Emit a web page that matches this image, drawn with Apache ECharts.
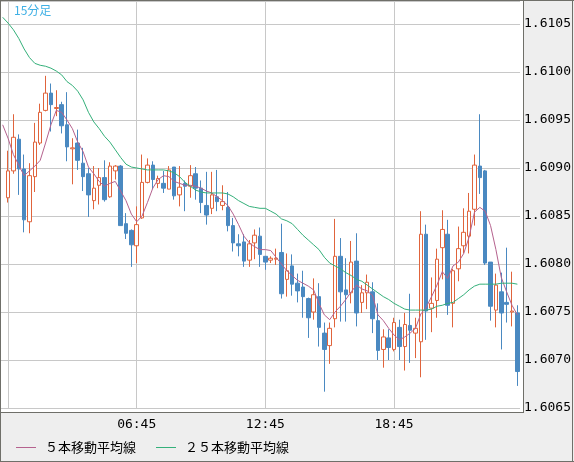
<!DOCTYPE html>
<html><head><meta charset="utf-8">
<script src="https://cdn.jsdelivr.net/npm/echarts@6/dist/echarts.min.js"></script>
<style>html,body{margin:0;padding:0;background:#eeeeee}#c{width:574px;height:462px}</style>
</head><body><div id="c"></div>
<script>
// category slots (first slot is an empty lead-in slot before the first visible candle)
const times = [
 '00:30','00:45',
 '01:00','01:15','01:30','01:45','02:00','02:15','02:30','02:45','03:00','03:15','03:30','03:45',
 '04:00','04:15','04:30','04:45','05:00','05:15','05:30','05:45','06:00','06:15','06:30','06:45',
 '07:00','07:15','07:30','07:45','08:00','08:15','08:30','08:45','09:00','09:15','09:30','09:45',
 '10:00','10:15','10:30','10:45','11:00','11:15','11:30','11:45','12:00','12:15','12:30','12:45',
 '13:00','13:15','13:30','13:45','14:00','14:15','14:30','14:45','15:00','15:15','15:30','15:45',
 '16:00','16:15','16:30','16:45','17:00','17:15','17:30','17:45','18:00','18:15','18:30','18:45',
 '19:00','19:15','19:30','19:45','20:00','20:15','20:30','20:45','21:00','21:15','21:30','21:45',
 '22:00','22:15','22:30','22:45','23:00','23:15','23:30','23:45','00:00','00:15','00:30'
];
const shownTimeLabels = ['06:45', '12:45', '18:45'];
const gridTimes = [1, 25, 49, 73]; // slot indices of 00:45, 06:45, 12:45, 18:45

// 96 visible candles (00:45 .. 00:30)
const openVals = [
 1.60869,1.60897,1.60930,1.60899,1.60844,1.60891,1.60926,1.60960,1.60978,1.60962,
 1.60966,1.60945,1.60920,1.60926,1.60905,1.60894,1.60866,1.60882,1.60890,1.60870,
 1.60897,1.60902,1.60842,1.60835,1.60819,1.60848,1.60885,1.60903,1.60884,1.60884,
 1.60878,1.60901,1.60872,1.60884,1.60881,1.60894,1.60879,1.60861,1.60858,1.60870,
 1.60861,1.60859,1.60840,1.60821,1.60823,1.60804,1.60822,1.60829,1.60808,1.60804,
 1.60805,1.60812,1.60784,1.60798,1.60780,1.60776,1.60764,1.60750,1.60766,1.60728,
 1.60715,1.60743,1.60808,1.60773,1.60770,1.60803,1.60760,1.60770,1.60771,1.60741,
 1.60711,1.60723,1.60711,1.60734,1.60714,1.60736,1.60728,1.60719,1.60831,1.60754,
 1.60762,1.60817,1.60831,1.60759,1.60795,1.60819,1.60829,1.60857,1.60902,1.60897,
 1.60802,1.60752,1.60771,1.60760,1.60750,1.60749
];
const closeVals = [
 1.60897,1.60932,1.60899,1.60846,1.60892,1.60927,1.60958,1.60978,1.60966,1.60963,
 1.60944,1.60922,1.60921,1.60908,1.60891,1.60872,1.60879,1.60890,1.60867,1.60902,
 1.60902,1.60840,1.60832,1.60820,1.60841,1.60885,1.60903,1.60888,1.60889,1.60879,
 1.60898,1.60871,1.60880,1.60881,1.60892,1.60879,1.60864,1.60851,1.60872,1.60865,
 1.60865,1.60840,1.60822,1.60819,1.60803,1.60821,1.60830,1.60810,1.60802,1.60806,
 1.60806,1.60769,1.60793,1.60779,1.60772,1.60766,1.60744,1.60768,1.60734,1.60711,
 1.60733,1.60808,1.60771,1.60768,1.60802,1.60749,1.60770,1.60781,1.60743,1.60710,
 1.60724,1.60713,1.60739,1.60714,1.60737,1.60731,1.60733,1.60831,1.60751,1.60759,
 1.60805,1.60836,1.60757,1.60793,1.60816,1.60833,1.60855,1.60903,1.60890,1.60801,
 1.60756,1.60778,1.60749,1.60758,1.60751,1.60688
];
const lowVals = [
 1.60864,1.60894,1.60872,1.60833,1.60832,1.60875,1.60924,1.60959,1.60938,1.60954,
 1.60936,1.60907,1.60883,1.60898,1.60876,1.60849,1.60857,1.60862,1.60865,1.60869,
 1.60888,1.60840,1.60826,1.60797,1.60801,1.60847,1.60884,1.60878,1.60879,1.60874,
 1.60878,1.60867,1.60860,1.60855,1.60869,1.60867,1.60853,1.60841,1.60852,1.60855,
 1.60856,1.60834,1.60813,1.60808,1.60797,1.60797,1.60805,1.60797,1.60794,1.60801,
 1.60799,1.60764,1.60766,1.60767,1.60760,1.60744,1.60723,1.60742,1.60714,1.60667,
 1.60696,1.60734,1.60740,1.60740,1.60759,1.60735,1.60749,1.60753,1.60728,1.60700,
 1.60692,1.60700,1.60709,1.60700,1.60689,1.60697,1.60702,1.60682,1.60721,1.60729,
 1.60744,1.60784,1.60747,1.60734,1.60782,1.60811,1.60811,1.60840,1.60873,1.60799,
 1.60741,1.60734,1.60711,1.60739,1.60735,1.60673
];
const highVals = [
 1.60918,1.60956,1.60935,1.60914,1.60905,1.60947,1.60967,1.60996,1.60988,1.60981,
 1.60969,1.60979,1.60931,1.60940,1.60921,1.60900,1.60902,1.60900,1.60908,1.60906,
 1.60903,1.60903,1.60853,1.60836,1.60860,1.60914,1.60910,1.60907,1.60892,1.60897,
 1.60902,1.60901,1.60902,1.60887,1.60903,1.60901,1.60887,1.60896,1.60896,1.60898,
 1.60882,1.60875,1.60848,1.60831,1.60831,1.60825,1.60836,1.60838,1.60808,1.60808,
 1.60816,1.60842,1.60811,1.60810,1.60790,1.60793,1.60765,1.60785,1.60780,1.60739,
 1.60739,1.60847,1.60827,1.60806,1.60824,1.60832,1.60778,1.60789,1.60781,1.60759,
 1.60732,1.60732,1.60744,1.60742,1.60749,1.60769,1.60744,1.60855,1.60841,1.60786,
 1.60816,1.60856,1.60846,1.60795,1.60839,1.60858,1.60874,1.60914,1.60956,1.60898,
 1.60802,1.60790,1.60791,1.60817,1.60792,1.60757
];
// moving averages (97 slots, first = lead-in slot)
const ma5 = [
 1.60945,
 1.60931,1.60914,1.60903,1.60892,1.60897,1.60902,1.60908,1.60926,1.60945,1.60960,
 1.60958,1.60950,1.60941,1.60927,1.60917,1.60901,1.60894,1.60886,1.60881,1.60884,
 1.60886,1.60876,1.60866,1.60852,1.60844,1.60850,1.60864,1.60879,1.60888,1.60892,
 1.60891,1.60886,1.60884,1.60882,1.60882,1.60881,1.60879,1.60876,1.60874,1.60870,
 1.60866,1.60861,1.60852,1.60841,1.60829,1.60822,1.60818,1.60815,1.60815,1.60814,
 1.60807,1.60800,1.60793,1.60788,1.60783,1.60780,1.60777,1.60773,1.60759,1.60747,
 1.60742,1.60750,1.60756,1.60763,1.60771,1.60778,1.60774,1.60772,1.60767,1.60747,
 1.60741,1.60733,1.60726,1.60721,1.60724,1.60728,1.60733,1.60748,1.60755,1.60766,
 1.60778,1.60792,1.60785,1.60798,1.60802,1.60811,1.60828,1.60854,1.60859,1.60855,
 1.60840,1.60815,1.60786,1.60771,1.60757,1.60747
];
const ma25 = [
 1.61057,
 1.61051,1.61044,1.61035,1.61024,1.61015,1.61009,1.61007,1.61006,1.61004,1.61001,
 1.60997,1.60990,1.60986,1.60980,1.60971,1.60958,1.60948,1.60941,1.60933,1.60927,
 1.60919,1.60911,1.60904,1.60901,1.60900,1.60899,1.60898,1.60898,1.60898,1.60898,
 1.60897,1.60895,1.60891,1.60885,1.60881,1.60877,1.60875,1.60874,1.60874,1.60874,
 1.60874,1.60873,1.60870,1.60866,1.60863,1.60860,1.60859,1.60858,1.60858,1.60855,
 1.60852,1.60847,1.60845,1.60842,1.60836,1.60830,1.60825,1.60820,1.60815,1.60807,
 1.60801,1.60798,1.60795,1.60791,1.60788,1.60784,1.60782,1.60778,1.60774,1.60770,
 1.60766,1.60763,1.60759,1.60756,1.60753,1.60752,1.60752,1.60752,1.60752,1.60753,
 1.60756,1.60757,1.60759,1.60760,1.60764,1.60768,1.60773,1.60777,1.60779,1.60779,
 1.60779,1.60779,1.60780,1.60780,1.60780,1.60779
];
const yTicks = ['1.6065','1.6070','1.6075','1.6080','1.6085','1.6090','1.6095','1.6100','1.6105'];

const candleData = [['-','-','-','-']].concat(
  openVals.map((o, i) => [o, closeVals[i], lowVals[i], highVals[i]]));

const UP = '#e0643c', DOWN = '#4a89c1', MA5C = '#b5628e', MA25C = '#34b07a';
const BORDER = '#6f6f69';
const chart = echarts.init(document.getElementById('c'), null, {renderer: 'canvas'});
chart.setOption({
  animation: false,
  backgroundColor: '#eeeeee',
  grid: {left: -0.5, top: 1, width: 523, height: 407, containLabel: false},
  xAxis: {
    type: 'category', data: times, boundaryGap: true,
    axisLine: {show: false}, axisTick: {show: false},
    axisLabel: {
      interval: (i, v) => shownTimeLabels.indexOf(v) >= 0 && i > 1,
      margin: 10, color: '#000', fontFamily: 'DejaVu Sans Mono', fontSize: 13
    },
    splitLine: {show: true, alignWithLabel: true, interval: (i) => gridTimes.indexOf(i) >= 0,
      lineStyle: {color: '#c8c8c8', width: 1}}
  },
  yAxis: {
    type: 'value', position: 'right', scale: true,
    min: 1.6065, max: 1.6065 + 407 / 96000, interval: 0.0005,
    axisLine: {show: false}, axisTick: {show: false},
    axisLabel: {
      margin: 4, color: '#000', fontFamily: 'DejaVu Sans Mono', fontSize: 13, showMaxLabel: false,
      formatter: (v) => { const s = v.toFixed(4); return yTicks.indexOf(s) >= 0 && Math.abs(v - (+s)) < 1e-7 ? s : ''; }
    },
    splitLine: {show: true, lineStyle: {color: '#c8c8c8', width: 1}}
  },
  legend: {
    left: 16, top: 441, padding: 0, icon: 'rect', itemWidth: 20, itemHeight: 1, itemGap: 20,
    selectedMode: false,
    data: ['５本移動平均線', '２５本移動平均線'],
    textStyle: {fontFamily: 'Noto Sans CJK JP', fontSize: 13, color: '#000', padding: [0, 0, 0, 4]}
  },
  graphic: [
    {type: 'rect', z: -10, silent: true, shape: {x: 1, y: 1, width: 522, height: 411}, style: {fill: '#ffffff'}},
    {type: 'line', z: 100, silent: true, shape: {x1: 523.5, y1: 0, x2: 523.5, y2: 413}, style: {stroke: BORDER, lineWidth: 1}},
    {type: 'line', z: 100, silent: true, shape: {x1: 0, y1: 412.5, x2: 524, y2: 412.5}, style: {stroke: BORDER, lineWidth: 1}},
    {type: 'line', z: 100, silent: true, shape: {x1: 0, y1: 0.5, x2: 574, y2: 0.5}, style: {stroke: BORDER, lineWidth: 1}},
    {type: 'line', z: 100, silent: true, shape: {x1: 0.5, y1: 0, x2: 0.5, y2: 462}, style: {stroke: BORDER, lineWidth: 1}},
    {type: 'line', z: 100, silent: true, shape: {x1: 572.5, y1: 0, x2: 572.5, y2: 462}, style: {stroke: BORDER, lineWidth: 1}},
    {type: 'line', z: 100, silent: true, shape: {x1: 0, y1: 461.5, x2: 574, y2: 461.5}, style: {stroke: BORDER, lineWidth: 1}},
    {type: 'text', z: 100, silent: true, x: 14, y: 4,
     style: {text: '15分足', fill: '#3fb0e5', font: '12px "Noto Sans CJK JP"'}}
  ],
  series: [
    {type: 'candlestick', name: 'rate', data: candleData, barWidth: 4,
     itemStyle: {color: '#ffffff', color0: DOWN, borderColor: UP, borderColor0: DOWN, borderWidth: 1}},
    {type: 'line', name: '５本移動平均線', data: ma5, symbol: 'none', showSymbol: false,
     lineStyle: {color: MA5C, width: 1}, itemStyle: {color: MA5C}, z: 3},
    {type: 'line', name: '２５本移動平均線', data: ma25, symbol: 'none', showSymbol: false,
     lineStyle: {color: MA25C, width: 1}, itemStyle: {color: MA25C}, z: 3}
  ]
});
</script></body></html>
